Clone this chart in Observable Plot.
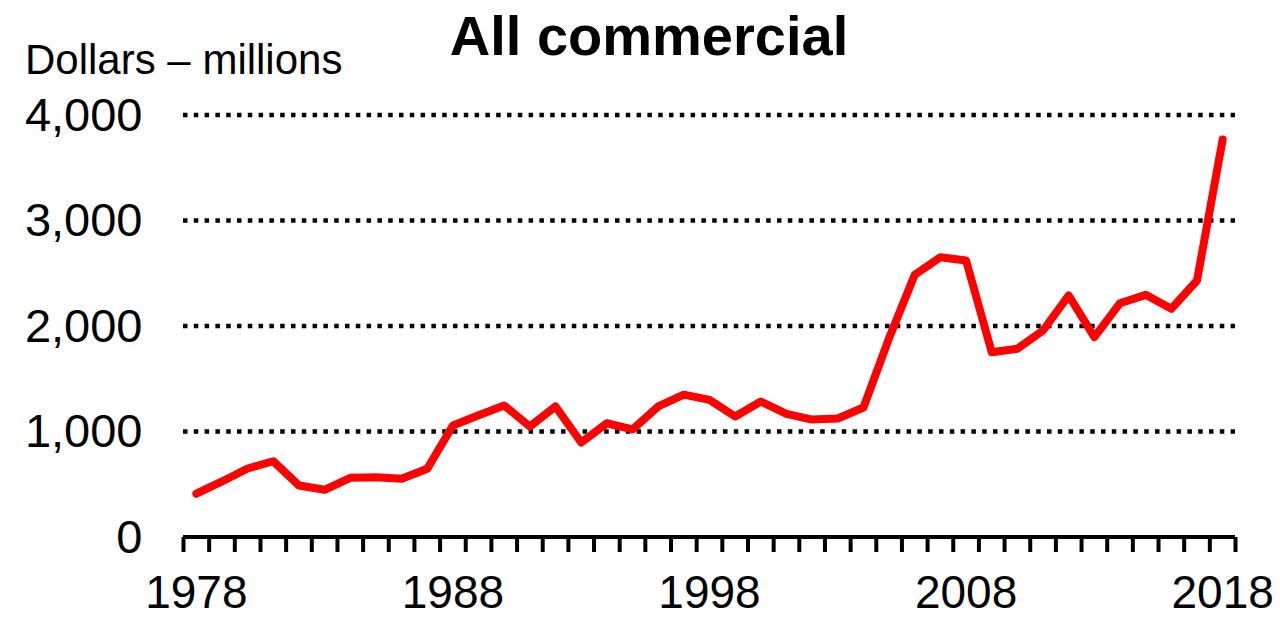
<!DOCTYPE html>
<html>
<head>
<meta charset="utf-8">
<script src="https://cdn.jsdelivr.net/npm/d3@7"></script>
<script src="https://cdn.jsdelivr.net/npm/@observablehq/plot@0.6"></script>
<style>
  html, body { margin: 0; padding: 0; background: #fff; }
  body { width: 1280px; height: 618px; overflow: hidden; font-family: "Liberation Sans", Arial, sans-serif; }
  #head { position: relative; height: 86px; }
  #title { position: absolute; left: 649px; top: 7.6px; transform: translateX(-50%);
           font-size: 56px; font-weight: bold; line-height: 56px; white-space: nowrap; color: #000; }
  #unit { position: absolute; left: 25px; top: 39.4px; font-size: 42px; line-height: 42px;
          white-space: nowrap; color: #000; }
  #chart svg { display: block; }
</style>
</head>
<body>
<div id="head">
  <div id="unit">Dollars – millions</div>
  <div id="title">All commercial</div>
</div>
<div id="chart"></div>
<script>
// Annual value, all commercial, millions of dollars
const years = d3.range(1978, 2019);
const values = [
  415, 531, 654, 723, 493, 452, 566, 572, 556, 651,
  1062, 1159, 1251, 1052, 1242, 900, 1083, 1024, 1242, 1355,
  1305, 1147, 1289, 1172, 1118, 1128, 1232, 1890, 2490, 2657,
  2626, 1756, 1789, 1962, 2294, 1899, 2221, 2300, 2168, 2436,
  3773
];
const yTicks = [0, 1000, 2000, 3000, 4000];
const gridValues = [1000, 2000, 3000, 4000];
const xLabelYears = [1978, 1988, 1998, 2008, 2018];

const data = years.map((year, i) => ({year, value: values[i]}));
// tick marks sit between years, one at each category edge
const yearEdges = d3.range(1977.5, 2019, 1);

const chart = Plot.plot({
  width: 1280,
  height: 532,
  marginLeft: 183,
  marginRight: 45,
  marginTop: 29,
  marginBottom: 81,
  style: {fontFamily: "Liberation Sans, Arial, sans-serif", fontSize: "47px", color: "#000", background: "#fff"},
  x: {domain: [1977.5, 2018.5]},
  y: {domain: [0, 4000]},
  marks: [
    Plot.ruleY(gridValues, {stroke: "#000", strokeWidth: 4.5, strokeDasharray: "4.5,6.3", dy: -0.5}),
    Plot.ruleY([0], {stroke: "#000", strokeWidth: 4, dy: -0.5}),
    Plot.axisX({ticks: yearEdges, tickSize: 15, strokeWidth: 4, stroke: "#000", tickFormat: () => "", label: null}),
    Plot.axisX({ticks: xLabelYears, tickSize: 0, tickPadding: 38, fontSize: 46, tickFormat: d => String(d), label: null}),
    Plot.axisY({ticks: yTicks, tickSize: 0, tickPadding: 41, fontSize: 47, tickFormat: d3.format(","), label: null}),
    Plot.line(data, {x: "year", y: "value", stroke: "#ff0000", strokeWidth: 8,
                     strokeLinejoin: "round", strokeLinecap: "round"})
  ]
});
document.getElementById("chart").appendChild(chart);
</script>
</body>
</html>
